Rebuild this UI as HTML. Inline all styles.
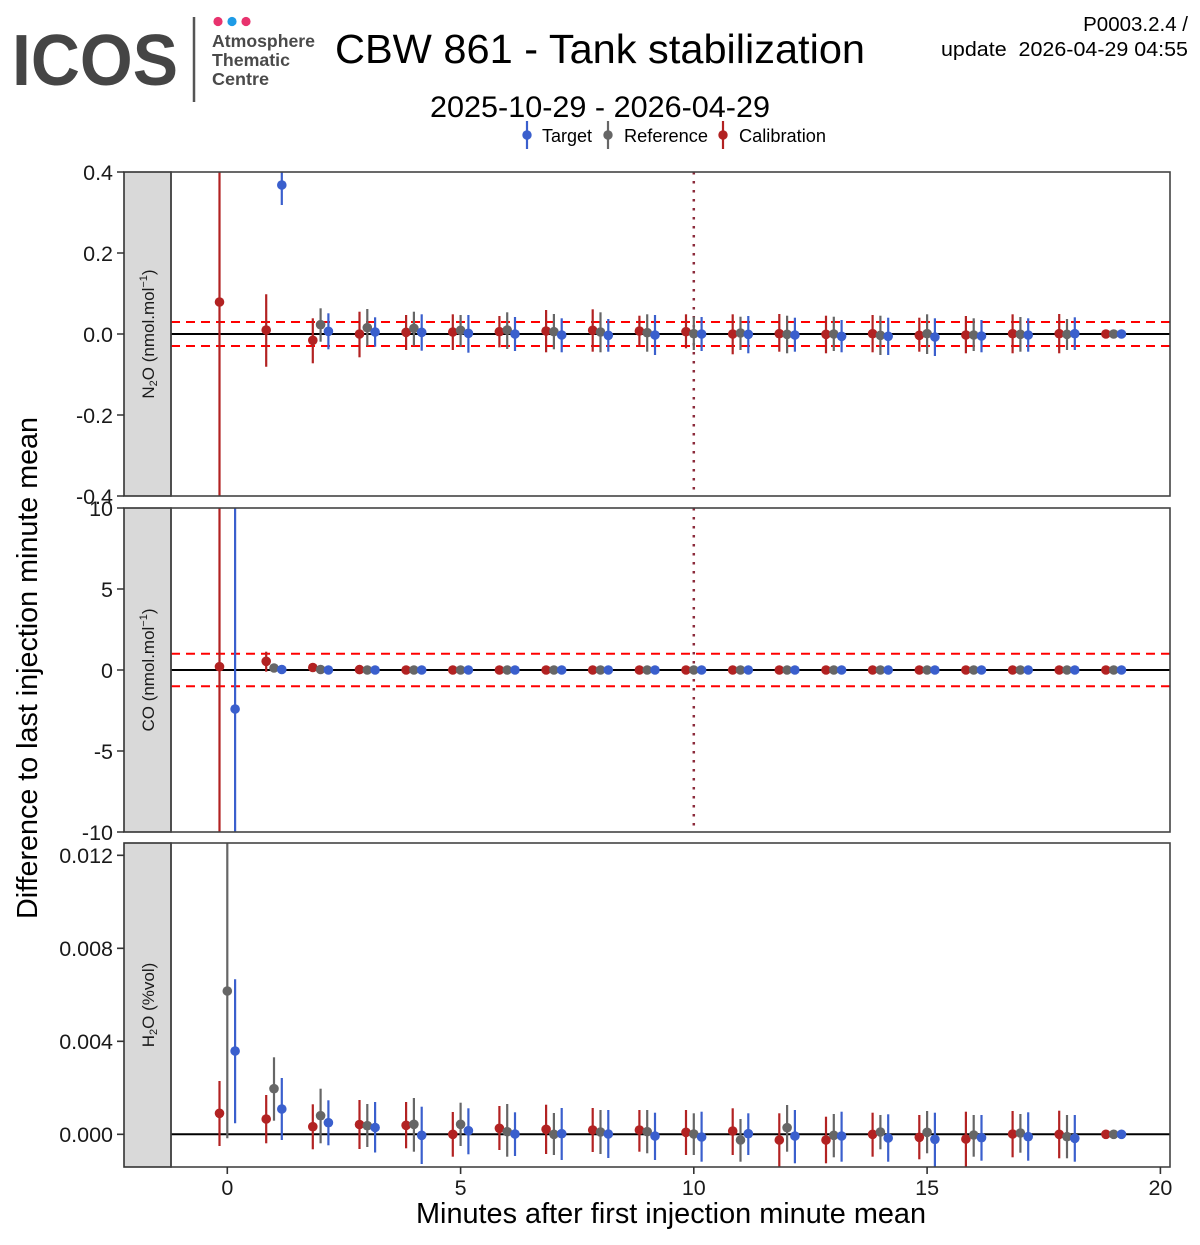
<!DOCTYPE html>
<html>
<head>
<meta charset="utf-8">
<style>
html,body{margin:0;padding:0;background:#fff;}
svg{display:block;}
text{font-family:"Liberation Sans",Arial,sans-serif;}
.r{stroke:#b22222;stroke-width:2.2;fill:none}
.g{stroke:#666666;stroke-width:2.2;fill:none}
.b{stroke:#3a5fcd;stroke-width:2.2;fill:none}
.R{fill:#b22222}
.G{fill:#666666}
.B{fill:#3a5fcd}
.tk{font-size:21.5px;fill:#1a1a1a;text-anchor:end}
.tx{font-size:21.5px;fill:#1a1a1a;text-anchor:middle}
.tick{stroke:#333;stroke-width:1.6}
.frame{fill:none;stroke:#444;stroke-width:1.6}
.strip{fill:#d9d9d9;stroke:#333;stroke-width:1.6}
.zero{stroke:#000;stroke-width:2}
.dash{stroke:#ff0000;stroke-width:2;stroke-dasharray:9 6}
.dot{stroke:#8b2a3a;stroke-width:2.5;stroke-dasharray:2.5 6.5}
.sl{font-size:17px;fill:#1a1a1a;text-anchor:middle}
</style>
</head>
<body>
<svg width="1200" height="1245" viewBox="0 0 1200 1245" xmlns="http://www.w3.org/2000/svg">
<defs>
<clipPath id="c1"><rect x="171" y="172" width="999" height="324"/></clipPath>
<clipPath id="c2"><rect x="171" y="508" width="999" height="324"/></clipPath>
<clipPath id="c3"><rect x="171" y="843" width="999" height="324"/></clipPath>
</defs>

<!-- Logo -->
<text x="12" y="85" font-size="72" font-weight="bold" fill="#454545" textLength="166" lengthAdjust="spacingAndGlyphs">ICOS</text>
<line x1="194" y1="17" x2="194" y2="102" stroke="#555" stroke-width="2.5"/>
<circle cx="218" cy="21.5" r="4.6" fill="#e8336e"/>
<circle cx="232" cy="21.5" r="4.6" fill="#1e9be6"/>
<circle cx="246" cy="21.5" r="4.6" fill="#e8336e"/>
<text x="212" y="47" font-size="17.5" font-weight="bold" fill="#4a4a4a" textLength="103" lengthAdjust="spacingAndGlyphs">Atmosphere</text>
<text x="212" y="66" font-size="17.5" font-weight="bold" fill="#4a4a4a" textLength="78" lengthAdjust="spacingAndGlyphs">Thematic</text>
<text x="212" y="85" font-size="17.5" font-weight="bold" fill="#4a4a4a" textLength="57" lengthAdjust="spacingAndGlyphs">Centre</text>

<!-- Titles -->
<text x="335" y="63" font-size="41" fill="#000" textLength="530" lengthAdjust="spacingAndGlyphs">CBW 861 - Tank stabilization</text>
<text x="430" y="117" font-size="30" fill="#000" textLength="340" lengthAdjust="spacingAndGlyphs">2025-10-29 - 2026-04-29</text>
<text x="1188" y="31" font-size="20.5" fill="#000" text-anchor="end">P0003.2.4 /</text>
<text x="941" y="56" font-size="20.5" fill="#000" xml:space="preserve" textLength="247" lengthAdjust="spacingAndGlyphs">update  2026-04-29 04:55</text>

<!-- Legend -->
<path class="b" d="M527 121V149"/><circle class="B" cx="527" cy="135" r="4.7"/>
<text x="542" y="142" font-size="18" fill="#000" textLength="50" lengthAdjust="spacingAndGlyphs">Target</text>
<path class="g" d="M608 121V149"/><circle class="G" cx="608" cy="135" r="4.7"/>
<text x="624" y="142" font-size="18" fill="#000" textLength="84" lengthAdjust="spacingAndGlyphs">Reference</text>
<path class="r" d="M723 121V149"/><circle class="R" cx="723" cy="135" r="4.7"/>
<text x="739" y="142" font-size="18" fill="#000" textLength="87" lengthAdjust="spacingAndGlyphs">Calibration</text>

<!-- Axis titles -->
<text transform="translate(37,668) rotate(-90)" font-size="28.5" fill="#000" text-anchor="middle" textLength="502" lengthAdjust="spacingAndGlyphs">Difference to last injection minute mean</text>
<text x="671" y="1223" font-size="28.5" fill="#000" text-anchor="middle" textLength="510" lengthAdjust="spacingAndGlyphs">Minutes after first injection minute mean</text>

<!-- ===== Panel 1: N2O ===== -->
<rect x="124" y="172" width="47" height="324" class="strip"/>
<text class="sl" transform="translate(154,334) rotate(-90)">N<tspan font-size="11" dy="3">2</tspan><tspan dy="-3">O (nmol.mol</tspan><tspan font-size="11" dy="-7">−1</tspan><tspan dy="7">)</tspan></text>
<g class="tick"><path d="M117 172H124M117 253H124M117 334H124M117 415H124M117 496H124"/></g>
<text class="tk" x="113" y="180">0.4</text>
<text class="tk" x="113" y="261">0.2</text>
<text class="tk" x="113" y="342">0.0</text>
<text class="tk" x="113" y="423">-0.2</text>
<text class="tk" x="113" y="504">-0.4</text>
<g clip-path="url(#c1)">
<line x1="171" y1="334" x2="1170" y2="334" class="zero"/>
<line x1="171" y1="322" x2="1170" y2="322" class="dash"/>
<line x1="171" y1="346" x2="1170" y2="346" class="dash"/>
<line x1="693.8" y1="172" x2="693.8" y2="496" class="dot"/>
<g transform="translate(227.3,0)"><path class="r" d="M-7.8 160V510"/><circle class="R" cx="-7.8" cy="302" r="4.8"/></g>
<g transform="translate(274,0)"><path class="r" d="M-7.8 294.3V366.7"/><path class="b" d="M7.8 160V205"/><circle class="R" cx="-7.8" cy="330" r="4.8"/><circle class="B" cx="7.8" cy="185" r="4.8"/></g>
<g transform="translate(320.6,0)"><path class="r" d="M-7.8 318.3V363.3"/><path class="g" d="M0 308.3V341.7"/><path class="b" d="M7.8 313.3V349.3"/><circle class="R" cx="-7.8" cy="340.3" r="4.8"/><circle class="G" cx="0" cy="324.7" r="4.8"/><circle class="B" cx="7.8" cy="331.3" r="4.8"/></g>
<g transform="translate(367.3,0)"><path class="r" d="M-7.8 311.7V357.3"/><path class="g" d="M0 309V345.7"/><path class="b" d="M7.8 317.3V346.7"/><circle class="R" cx="-7.8" cy="334" r="4.8"/><circle class="G" cx="0" cy="327.7" r="4.8"/><circle class="B" cx="7.8" cy="332" r="4.8"/></g>
<g transform="translate(413.9,0)"><path class="r" d="M-7.8 315V350"/><path class="g" d="M0 311.7V345.7"/><path class="b" d="M7.8 314.3V350.7"/><circle class="R" cx="-7.8" cy="332.3" r="4.8"/><circle class="G" cx="0" cy="328.3" r="4.8"/><circle class="B" cx="7.8" cy="332.3" r="4.8"/></g>
<g transform="translate(460.6,0)"><path class="r" d="M-7.8 314.3V350"/><path class="g" d="M0 315V346.7"/><path class="b" d="M7.8 315V352.7"/><circle class="R" cx="-7.8" cy="332" r="4.8"/><circle class="G" cx="0" cy="330.3" r="4.8"/><circle class="B" cx="7.8" cy="333.3" r="4.8"/></g>
<g transform="translate(507.2,0)"><path class="r" d="M-7.8 316V347.3"/><path class="g" d="M0 312.3V349"/><path class="b" d="M7.8 317V351"/><circle class="R" cx="-7.8" cy="331.7" r="4.8"/><circle class="G" cx="0" cy="330" r="4.8"/><circle class="B" cx="7.8" cy="334" r="4.8"/></g>
<g transform="translate(553.9,0)"><path class="r" d="M-7.8 310V352.3"/><path class="g" d="M0 314V349.3"/><path class="b" d="M7.8 318.3V352.3"/><circle class="R" cx="-7.8" cy="331" r="4.8"/><circle class="G" cx="0" cy="331.7" r="4.8"/><circle class="B" cx="7.8" cy="335" r="4.8"/></g>
<g transform="translate(600.5,0)"><path class="r" d="M-7.8 309.3V351.7"/><path class="g" d="M0 312.3V352.3"/><path class="b" d="M7.8 319V351.7"/><circle class="R" cx="-7.8" cy="330.3" r="4.8"/><circle class="G" cx="0" cy="332" r="4.8"/><circle class="B" cx="7.8" cy="335.3" r="4.8"/></g>
<g transform="translate(647.2,0)"><path class="r" d="M-7.8 315.7V346.7"/><path class="g" d="M0 314.3V351.7"/><path class="b" d="M7.8 315V355"/><circle class="R" cx="-7.8" cy="331" r="4.8"/><circle class="G" cx="0" cy="332.7" r="4.8"/><circle class="B" cx="7.8" cy="335" r="4.8"/></g>
<g transform="translate(693.8,0)"><path class="r" d="M-7.8 314.3V348.3"/><path class="g" d="M0 316.7V350"/><path class="b" d="M7.8 317V351"/><circle class="R" cx="-7.8" cy="331.7" r="4.8"/><circle class="G" cx="0" cy="333.7" r="4.8"/><circle class="B" cx="7.8" cy="334" r="4.8"/></g>
<g transform="translate(740.5,0)"><path class="r" d="M-7.8 314.3V354.3"/><path class="g" d="M0 316.7V350"/><path class="b" d="M7.8 316V353.3"/><circle class="R" cx="-7.8" cy="334" r="4.8"/><circle class="G" cx="0" cy="333" r="4.8"/><circle class="B" cx="7.8" cy="334.3" r="4.8"/></g>
<g transform="translate(787.1,0)"><path class="r" d="M-7.8 314V351.7"/><path class="g" d="M0 315.7V353.3"/><path class="b" d="M7.8 317.7V351.7"/><circle class="R" cx="-7.8" cy="333.7" r="4.8"/><circle class="G" cx="0" cy="334.3" r="4.8"/><circle class="B" cx="7.8" cy="335" r="4.8"/></g>
<g transform="translate(833.8,0)"><path class="r" d="M-7.8 315.7V353.3"/><path class="g" d="M0 316.7V351"/><path class="b" d="M7.8 320V352.3"/><circle class="R" cx="-7.8" cy="334.3" r="4.8"/><circle class="G" cx="0" cy="334" r="4.8"/><circle class="B" cx="7.8" cy="336.3" r="4.8"/></g>
<g transform="translate(880.4,0)"><path class="r" d="M-7.8 315V352.3"/><path class="g" d="M0 315.7V355"/><path class="b" d="M7.8 317.7V355"/><circle class="R" cx="-7.8" cy="333.7" r="4.8"/><circle class="G" cx="0" cy="335.3" r="4.8"/><circle class="B" cx="7.8" cy="336.3" r="4.8"/></g>
<g transform="translate(927.1,0)"><path class="r" d="M-7.8 317.7V351.7"/><path class="g" d="M0 314.3V354"/><path class="b" d="M7.8 318.3V356"/><circle class="R" cx="-7.8" cy="335.3" r="4.8"/><circle class="G" cx="0" cy="333.7" r="4.8"/><circle class="B" cx="7.8" cy="337" r="4.8"/></g>
<g transform="translate(973.7,0)"><path class="r" d="M-7.8 316V353.3"/><path class="g" d="M0 318.3V351"/><path class="b" d="M7.8 320V352.3"/><circle class="R" cx="-7.8" cy="335" r="4.8"/><circle class="G" cx="0" cy="335" r="4.8"/><circle class="B" cx="7.8" cy="336" r="4.8"/></g>
<g transform="translate(1020.4,0)"><path class="r" d="M-7.8 314.3V353.3"/><path class="g" d="M0 317V351.7"/><path class="b" d="M7.8 318.3V351.7"/><circle class="R" cx="-7.8" cy="333.7" r="4.8"/><circle class="G" cx="0" cy="334.3" r="4.8"/><circle class="B" cx="7.8" cy="335" r="4.8"/></g>
<g transform="translate(1067,0)"><path class="r" d="M-7.8 314V353.3"/><path class="g" d="M0 319V350"/><path class="b" d="M7.8 317.3V350"/><circle class="R" cx="-7.8" cy="333.7" r="4.8"/><circle class="G" cx="0" cy="334.3" r="4.8"/><circle class="B" cx="7.8" cy="333.7" r="4.8"/></g>
<g transform="translate(1113.7,0)"><circle class="R" cx="-7.8" cy="334" r="4.8"/><circle class="G" cx="0" cy="334" r="4.8"/><circle class="B" cx="7.8" cy="334" r="4.8"/></g>
</g>
<rect x="171" y="172" width="999" height="324" class="frame"/>

<!-- ===== Panel 2: CO ===== -->
<rect x="124" y="508" width="47" height="324" class="strip"/>
<text class="sl" transform="translate(154,670) rotate(-90)">CO (nmol.mol<tspan font-size="11" dy="-7">−1</tspan><tspan dy="7">)</tspan></text>
<g class="tick"><path d="M117 508H124M117 589H124M117 670H124M117 751H124M117 832H124"/></g>
<text class="tk" x="113" y="516">10</text>
<text class="tk" x="113" y="597">5</text>
<text class="tk" x="113" y="678">0</text>
<text class="tk" x="113" y="759">-5</text>
<text class="tk" x="113" y="840">-10</text>
<g clip-path="url(#c2)">
<line x1="171" y1="670" x2="1170" y2="670" class="zero"/>
<line x1="171" y1="653.8" x2="1170" y2="653.8" class="dash"/>
<line x1="171" y1="686.2" x2="1170" y2="686.2" class="dash"/>
<line x1="693.8" y1="508" x2="693.8" y2="832" class="dot"/>
<g transform="translate(227.3,0)"><path class="r" d="M-7.8 500V840"/><path class="b" d="M7.8 500V840"/><circle class="R" cx="-7.8" cy="666.7" r="4.8"/><circle class="B" cx="7.8" cy="709" r="4.8"/></g>
<g transform="translate(274,0)"><path class="r" d="M-7.8 651.7V671.7"/><circle class="R" cx="-7.8" cy="661.3" r="4.8"/><circle class="G" cx="0" cy="668" r="4.8"/><circle class="B" cx="7.8" cy="669.5" r="4.8"/></g>
<g transform="translate(320.6,0)"><circle class="R" cx="-7.8" cy="667.5" r="4.8"/><circle class="G" cx="0" cy="669.5" r="4.8"/><circle class="B" cx="7.8" cy="670" r="4.8"/></g>
<g transform="translate(367.3,0)"><circle class="R" cx="-7.8" cy="669.6" r="4.8"/><circle class="G" cx="0" cy="670" r="4.8"/><circle class="B" cx="7.8" cy="670" r="4.8"/></g>
<g transform="translate(413.9,0)"><circle class="R" cx="-7.8" cy="670" r="4.8"/><circle class="G" cx="0" cy="670" r="4.8"/><circle class="B" cx="7.8" cy="670" r="4.8"/></g>
<g transform="translate(460.6,0)"><circle class="R" cx="-7.8" cy="670" r="4.8"/><circle class="G" cx="0" cy="670" r="4.8"/><circle class="B" cx="7.8" cy="670" r="4.8"/></g>
<g transform="translate(507.2,0)"><circle class="R" cx="-7.8" cy="670" r="4.8"/><circle class="G" cx="0" cy="670" r="4.8"/><circle class="B" cx="7.8" cy="670" r="4.8"/></g>
<g transform="translate(553.9,0)"><circle class="R" cx="-7.8" cy="670" r="4.8"/><circle class="G" cx="0" cy="670" r="4.8"/><circle class="B" cx="7.8" cy="670" r="4.8"/></g>
<g transform="translate(600.5,0)"><circle class="R" cx="-7.8" cy="670" r="4.8"/><circle class="G" cx="0" cy="670" r="4.8"/><circle class="B" cx="7.8" cy="670" r="4.8"/></g>
<g transform="translate(647.2,0)"><circle class="R" cx="-7.8" cy="670" r="4.8"/><circle class="G" cx="0" cy="670" r="4.8"/><circle class="B" cx="7.8" cy="670" r="4.8"/></g>
<g transform="translate(693.8,0)"><circle class="R" cx="-7.8" cy="670" r="4.8"/><circle class="G" cx="0" cy="670" r="4.8"/><circle class="B" cx="7.8" cy="670" r="4.8"/></g>
<g transform="translate(740.5,0)"><circle class="R" cx="-7.8" cy="670" r="4.8"/><circle class="G" cx="0" cy="670" r="4.8"/><circle class="B" cx="7.8" cy="670" r="4.8"/></g>
<g transform="translate(787.1,0)"><circle class="R" cx="-7.8" cy="670" r="4.8"/><circle class="G" cx="0" cy="670" r="4.8"/><circle class="B" cx="7.8" cy="670" r="4.8"/></g>
<g transform="translate(833.8,0)"><circle class="R" cx="-7.8" cy="670" r="4.8"/><circle class="G" cx="0" cy="670" r="4.8"/><circle class="B" cx="7.8" cy="670" r="4.8"/></g>
<g transform="translate(880.4,0)"><circle class="R" cx="-7.8" cy="670" r="4.8"/><circle class="G" cx="0" cy="670" r="4.8"/><circle class="B" cx="7.8" cy="670" r="4.8"/></g>
<g transform="translate(927.1,0)"><circle class="R" cx="-7.8" cy="670" r="4.8"/><circle class="G" cx="0" cy="670" r="4.8"/><circle class="B" cx="7.8" cy="670" r="4.8"/></g>
<g transform="translate(973.7,0)"><circle class="R" cx="-7.8" cy="670" r="4.8"/><circle class="G" cx="0" cy="670" r="4.8"/><circle class="B" cx="7.8" cy="670" r="4.8"/></g>
<g transform="translate(1020.4,0)"><circle class="R" cx="-7.8" cy="670" r="4.8"/><circle class="G" cx="0" cy="670" r="4.8"/><circle class="B" cx="7.8" cy="670" r="4.8"/></g>
<g transform="translate(1067,0)"><circle class="R" cx="-7.8" cy="670" r="4.8"/><circle class="G" cx="0" cy="670" r="4.8"/><circle class="B" cx="7.8" cy="670" r="4.8"/></g>
<g transform="translate(1113.7,0)"><circle class="R" cx="-7.8" cy="670" r="4.8"/><circle class="G" cx="0" cy="670" r="4.8"/><circle class="B" cx="7.8" cy="670" r="4.8"/></g>
</g>
<rect x="171" y="508" width="999" height="324" class="frame"/>

<!-- ===== Panel 3: H2O ===== -->
<rect x="124" y="843" width="47" height="324" class="strip"/>
<text class="sl" transform="translate(154,1005) rotate(-90)">H<tspan font-size="11" dy="3">2</tspan><tspan dy="-3">O (%vol)</tspan></text>
<g class="tick"><path d="M117 855.3H124M117 948.3H124M117 1041.3H124M117 1134.3H124"/></g>
<text class="tk" x="113" y="863">0.012</text>
<text class="tk" x="113" y="956">0.008</text>
<text class="tk" x="113" y="1049">0.004</text>
<text class="tk" x="113" y="1142">0.000</text>
<g clip-path="url(#c3)">
<line x1="171" y1="1134.3" x2="1170" y2="1134.3" class="zero"/>
<g transform="translate(227.3,0)"><path class="r" d="M-7.8 1081V1146"/><path class="g" d="M0 835V1138.3"/><path class="b" d="M7.8 979.3V1123.3"/><circle class="R" cx="-7.8" cy="1113.3" r="4.8"/><circle class="G" cx="0" cy="991" r="4.8"/><circle class="B" cx="7.8" cy="1051" r="4.8"/></g>
<g transform="translate(274,0)"><path class="r" d="M-7.8 1095V1143.3"/><path class="g" d="M0 1057.3V1120.7"/><path class="b" d="M7.8 1078V1140"/><circle class="R" cx="-7.8" cy="1119" r="4.8"/><circle class="G" cx="0" cy="1088.7" r="4.8"/><circle class="B" cx="7.8" cy="1109" r="4.8"/></g>
<g transform="translate(320.6,0)"><path class="r" d="M-7.8 1104.3V1149.3"/><path class="g" d="M0 1088.7V1143.3"/><path class="b" d="M7.8 1100.3V1145.3"/><circle class="R" cx="-7.8" cy="1126.7" r="4.8"/><circle class="G" cx="0" cy="1115.7" r="4.8"/><circle class="B" cx="7.8" cy="1122.7" r="4.8"/></g>
<g transform="translate(367.3,0)"><path class="r" d="M-7.8 1100V1149"/><path class="g" d="M0 1104V1147"/><path class="b" d="M7.8 1102V1152.5"/><circle class="R" cx="-7.8" cy="1124.5" r="4.8"/><circle class="G" cx="0" cy="1125.7" r="4.8"/><circle class="B" cx="7.8" cy="1127.5" r="4.8"/></g>
<g transform="translate(413.9,0)"><path class="r" d="M-7.8 1102V1148.3"/><path class="g" d="M0 1098V1151.7"/><path class="b" d="M7.8 1106.7V1164"/><circle class="R" cx="-7.8" cy="1125.3" r="4.8"/><circle class="G" cx="0" cy="1124.3" r="4.8"/><circle class="B" cx="7.8" cy="1135.3" r="4.8"/></g>
<g transform="translate(460.6,0)"><path class="r" d="M-7.8 1112V1156.7"/><path class="g" d="M0 1102.7V1146"/><path class="b" d="M7.8 1108.3V1154.3"/><circle class="R" cx="-7.8" cy="1134.3" r="4.8"/><circle class="G" cx="0" cy="1124.3" r="4.8"/><circle class="B" cx="7.8" cy="1130.7" r="4.8"/></g>
<g transform="translate(507.2,0)"><path class="r" d="M-7.8 1106V1150"/><path class="g" d="M0 1104V1156.7"/><path class="b" d="M7.8 1112.3V1156"/><circle class="R" cx="-7.8" cy="1128.3" r="4.8"/><circle class="G" cx="0" cy="1131.7" r="4.8"/><circle class="B" cx="7.8" cy="1134" r="4.8"/></g>
<g transform="translate(553.9,0)"><path class="r" d="M-7.8 1104.7V1154"/><path class="g" d="M0 1113V1155"/><path class="b" d="M7.8 1108V1160"/><circle class="R" cx="-7.8" cy="1129.3" r="4.8"/><circle class="G" cx="0" cy="1134.3" r="4.8"/><circle class="B" cx="7.8" cy="1133.7" r="4.8"/></g>
<g transform="translate(600.5,0)"><path class="r" d="M-7.8 1108V1152"/><path class="g" d="M0 1110V1154"/><path class="b" d="M7.8 1110V1158"/><circle class="R" cx="-7.8" cy="1130" r="4.8"/><circle class="G" cx="0" cy="1132" r="4.8"/><circle class="B" cx="7.8" cy="1134" r="4.8"/></g>
<g transform="translate(647.2,0)"><path class="r" d="M-7.8 1110V1151.7"/><path class="g" d="M0 1110V1153.3"/><path class="b" d="M7.8 1112.7V1160"/><circle class="R" cx="-7.8" cy="1130" r="4.8"/><circle class="G" cx="0" cy="1131.7" r="4.8"/><circle class="B" cx="7.8" cy="1136" r="4.8"/></g>
<g transform="translate(693.8,0)"><path class="r" d="M-7.8 1110V1155"/><path class="g" d="M0 1113.3V1155"/><path class="b" d="M7.8 1111.7V1161.7"/><circle class="R" cx="-7.8" cy="1132.3" r="4.8"/><circle class="G" cx="0" cy="1134" r="4.8"/><circle class="B" cx="7.8" cy="1137" r="4.8"/></g>
<g transform="translate(740.5,0)"><path class="r" d="M-7.8 1108.3V1155"/><path class="g" d="M0 1119V1161.7"/><path class="b" d="M7.8 1113.3V1155"/><circle class="R" cx="-7.8" cy="1131" r="4.8"/><circle class="G" cx="0" cy="1140" r="4.8"/><circle class="B" cx="7.8" cy="1133.7" r="4.8"/></g>
<g transform="translate(787.1,0)"><path class="r" d="M-7.8 1113.3V1175"/><path class="g" d="M0 1105V1151.7"/><path class="b" d="M7.8 1110V1163.3"/><circle class="R" cx="-7.8" cy="1140" r="4.8"/><circle class="G" cx="0" cy="1127.7" r="4.8"/><circle class="B" cx="7.8" cy="1136" r="4.8"/></g>
<g transform="translate(833.8,0)"><path class="r" d="M-7.8 1116.7V1163.3"/><path class="g" d="M0 1114V1157.3"/><path class="b" d="M7.8 1111.7V1161.7"/><circle class="R" cx="-7.8" cy="1140" r="4.8"/><circle class="G" cx="0" cy="1135.3" r="4.8"/><circle class="B" cx="7.8" cy="1136" r="4.8"/></g>
<g transform="translate(880.4,0)"><path class="r" d="M-7.8 1112.7V1156.7"/><path class="g" d="M0 1115V1149.3"/><path class="b" d="M7.8 1114.3V1161.7"/><circle class="R" cx="-7.8" cy="1134.3" r="4.8"/><circle class="G" cx="0" cy="1132" r="4.8"/><circle class="B" cx="7.8" cy="1138" r="4.8"/></g>
<g transform="translate(927.1,0)"><path class="r" d="M-7.8 1115V1159.3"/><path class="g" d="M0 1111V1153.3"/><path class="b" d="M7.8 1112.7V1166.7"/><circle class="R" cx="-7.8" cy="1137.3" r="4.8"/><circle class="G" cx="0" cy="1132.3" r="4.8"/><circle class="B" cx="7.8" cy="1139.3" r="4.8"/></g>
<g transform="translate(973.7,0)"><path class="r" d="M-7.8 1111.7V1170"/><path class="g" d="M0 1115V1156.7"/><path class="b" d="M7.8 1115V1160.7"/><circle class="R" cx="-7.8" cy="1139" r="4.8"/><circle class="G" cx="0" cy="1135" r="4.8"/><circle class="B" cx="7.8" cy="1137.7" r="4.8"/></g>
<g transform="translate(1020.4,0)"><path class="r" d="M-7.8 1111V1157.3"/><path class="g" d="M0 1114V1152.7"/><path class="b" d="M7.8 1112.3V1160.7"/><circle class="R" cx="-7.8" cy="1134" r="4.8"/><circle class="G" cx="0" cy="1133" r="4.8"/><circle class="B" cx="7.8" cy="1136.7" r="4.8"/></g>
<g transform="translate(1067,0)"><path class="r" d="M-7.8 1110.7V1158.3"/><path class="g" d="M0 1115V1158.3"/><path class="b" d="M7.8 1115V1161.7"/><circle class="R" cx="-7.8" cy="1134.3" r="4.8"/><circle class="G" cx="0" cy="1136.7" r="4.8"/><circle class="B" cx="7.8" cy="1138.3" r="4.8"/></g>
<g transform="translate(1113.7,0)"><circle class="R" cx="-7.8" cy="1134.3" r="4.8"/><circle class="G" cx="0" cy="1134.3" r="4.8"/><circle class="B" cx="7.8" cy="1134.3" r="4.8"/></g>
</g>
<rect x="171" y="843" width="999" height="324" class="frame"/>

<!-- X axis ticks -->
<g class="tick"><path d="M227.3 1167V1174M460.6 1167V1174M693.8 1167V1174M927.1 1167V1174M1160.4 1167V1174"/></g>
<text class="tx" x="227.3" y="1195">0</text>
<text class="tx" x="460.6" y="1195">5</text>
<text class="tx" x="693.8" y="1195">10</text>
<text class="tx" x="927.1" y="1195">15</text>
<text class="tx" x="1160.4" y="1195">20</text>
</svg>
</body>
</html>
